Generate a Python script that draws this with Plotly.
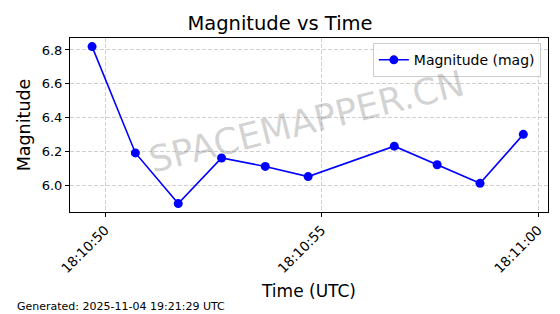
import plotly.graph_objects as go

times = ["2025-11-04 18:10:49.70", "2025-11-04 18:10:50.70", "2025-11-04 18:10:51.69",
         "2025-11-04 18:10:52.69", "2025-11-04 18:10:53.70", "2025-11-04 18:10:54.69",
         "2025-11-04 18:10:56.68", "2025-11-04 18:10:57.67", "2025-11-04 18:10:58.66",
         "2025-11-04 18:10:59.66"]
magnitude = [6.82, 6.19, 5.89, 6.16, 6.11, 6.05, 6.23, 6.12, 6.01, 6.30]
tick_vals = ["2025-11-04 18:10:50", "2025-11-04 18:10:55", "2025-11-04 18:11:00"]
tick_text = ["18:10:50", "18:10:55", "18:11:00"]
y_ticks = [6.0, 6.2, 6.4, 6.6, 6.8]

FONT = "DejaVu Sans"

fig = go.Figure()
fig.add_trace(go.Scatter(
    x=times, y=magnitude, mode="lines+markers", name="Magnitude (mag)",
    line=dict(color="#0000ff", width=1.6),
    marker=dict(color="#0000ff", size=9),
))

fig.update_layout(
    width=560, height=314,
    margin=dict(l=70, r=12, t=38, b=102),
    paper_bgcolor="white", plot_bgcolor="white",
    font=dict(family=FONT, color="black"),
    title=dict(text="Magnitude vs Time", x=0.5, xanchor="center", y=0.925, yanchor="middle",
               font=dict(size=19.5, family=FONT)),
    showlegend=True,
    legend=dict(x=0.985, y=0.97, xanchor="right", yanchor="top",
                bgcolor="rgba(255,255,255,0.8)", bordercolor="#cccccc", borderwidth=1,
                font=dict(size=14, family=FONT)),
    xaxis=dict(
        type="date",
        range=["2025-11-04 18:10:49.19", "2025-11-04 18:11:00.23"],
        tickvals=tick_vals, ticktext=tick_text, tickangle=-45,
        tickfont=dict(size=13.5), ticks="outside", ticklen=4, tickcolor="black",
        showline=True, linecolor="black", linewidth=1, mirror=True,
        showgrid=True, gridcolor="#d0d0d0", griddash="4px,2px", gridwidth=1,
        zeroline=False,
        title=dict(text="Time (UTC)", font=dict(size=17), standoff=9),
    ),
    yaxis=dict(
        range=[5.84, 6.871],
        tickvals=y_ticks, ticktext=[f"{v:.1f}" for v in y_ticks],
        tickfont=dict(size=13), ticks="outside", ticklen=4, tickcolor="black",
        showline=True, linecolor="black", linewidth=1, mirror=True,
        showgrid=True, gridcolor="#d0d0d0", griddash="4px,2px", gridwidth=1,
        zeroline=False,
        title=dict(text="Magnitude", font=dict(size=17.5), standoff=6),
    ),
)

fig.add_annotation(
    text="SPACEMAPPER.CN", xref="paper", yref="paper", x=0.495, y=0.52,
    showarrow=False, textangle=-14,
    font=dict(size=36, family=FONT, color="rgba(128,128,128,0.34)"),
)
fig.add_annotation(
    text="Generated: 2025-11-04 19:21:29 UTC", xref="paper", yref="paper",
    x=-0.115, y=-0.545, xanchor="left", yanchor="middle", showarrow=False,
    font=dict(size=11, family=FONT, color="black"),
)

fig.write_html("out.html")
